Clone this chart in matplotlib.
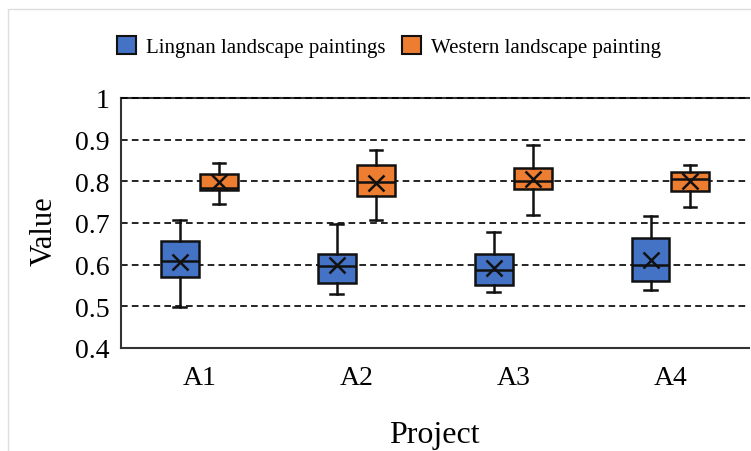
import numpy as np
import matplotlib.pyplot as plt
from matplotlib.patches import Patch, Rectangle

plt.rcParams['font.family'] = ['Liberation Serif', 'DejaVu Serif']

projects = ['A1', 'A2', 'A3', 'A4']

# five-number summaries + mean for each project
lingnan_lo = [0.498, 0.530, 0.535, 0.539]
lingnan_q1 = [0.570, 0.557, 0.552, 0.560]
lingnan_med = [0.609, 0.597, 0.587, 0.600]
lingnan_q3 = [0.657, 0.626, 0.625, 0.664]
lingnan_hi = [0.707, 0.698, 0.679, 0.717]
lingnan_mean = [0.607, 0.599, 0.591, 0.611]

western_lo = [0.745, 0.708, 0.719, 0.739]
western_q1 = [0.779, 0.764, 0.781, 0.776]
western_med = [0.785, 0.799, 0.801, 0.806]
western_q3 = [0.818, 0.840, 0.833, 0.822]
western_hi = [0.844, 0.875, 0.886, 0.840]
western_mean = [0.798, 0.797, 0.806, 0.801]

blue = '#4472C4'
orange = '#ED7D31'


def make_stats(lo, q1, med, q3, hi, mean):
    return [dict(whislo=a, q1=b, med=c, q3=d, whishi=e, mean=f, fliers=[])
            for a, b, c, d, e, f in zip(lo, q1, med, q3, hi, mean)]


fig = plt.figure(figsize=(7.51, 4.52), dpi=100)
ax = fig.add_axes([0.161, 0.228, 0.836, 0.553])

x = np.arange(1, len(projects) + 1)
w = 0.24
groups = [
    (make_stats(lingnan_lo, lingnan_q1, lingnan_med, lingnan_q3, lingnan_hi, lingnan_mean), x - 0.125, blue),
    (make_stats(western_lo, western_q1, western_med, western_q3, western_hi, western_mean), x + 0.125, orange),
]
for stats, pos, col in groups:
    ax.bxp(stats, positions=pos, widths=w, patch_artist=True, showmeans=True,
           showfliers=False, capwidths=0.08,
           boxprops=dict(facecolor=col, edgecolor='#111111', linewidth=1.8),
           medianprops=dict(color='#111111', linewidth=1.8),
           whiskerprops=dict(color='#111111', linewidth=1.8),
           capprops=dict(color='#111111', linewidth=1.8),
           meanprops=dict(marker='x', markersize=11, markeredgecolor='#111111',
                          markeredgewidth=1.8))

ax.set_xlim(0.5, 4.5)
ax.set_ylim(0.4, 1.0)
ax.set_yticks(np.arange(0.4, 1.01, 0.1))
ax.set_yticklabels(['0.4', '0.5', '0.6', '0.7', '0.8', '0.9', '1'])
ax.set_xticks(x)
ax.set_xticklabels(projects)
ax.tick_params(length=0, labelsize=20, pad=8)
ax.tick_params(axis='x', pad=12)

for yv in [0.5, 0.6, 0.7, 0.8, 0.9, 1.0]:
    ax.axhline(yv, color='black', linestyle=(0, (4, 2.5)), linewidth=1.2,
               zorder=0 if yv < 1 else 3, clip_on=False)

ax.spines['right'].set_visible(False)
for s in ['left', 'bottom', 'top']:
    ax.spines[s].set_color('#333333')
    ax.spines[s].set_linewidth(1.5)

ax.set_xlabel('Project', fontsize=23, labelpad=22)
ax.set_ylabel('Value', fontsize=22)
ax.yaxis.set_label_coords(-0.099, 0.47)

handles = [Patch(facecolor=blue, edgecolor='#111111', linewidth=1.5),
           Patch(facecolor=orange, edgecolor='#111111', linewidth=1.5)]
fig.legend(handles, ['Lingnan landscape paintings', 'Western landscape painting'],
           loc='center', bbox_to_anchor=(0.518, 0.894), ncol=2, frameon=False,
           fontsize=15, handlelength=0.9, handleheight=0.9, handletextpad=0.5,
           columnspacing=0.8)

# thin grey frame around the figure
fig.patches.append(Rectangle((8 / 751, -0.05), 1.1, 1.05 - 10 / 452,
                             transform=fig.transFigure, fill=False,
                             edgecolor='#dddddd', linewidth=1.0))

fig.savefig('out.png', dpi=100)
